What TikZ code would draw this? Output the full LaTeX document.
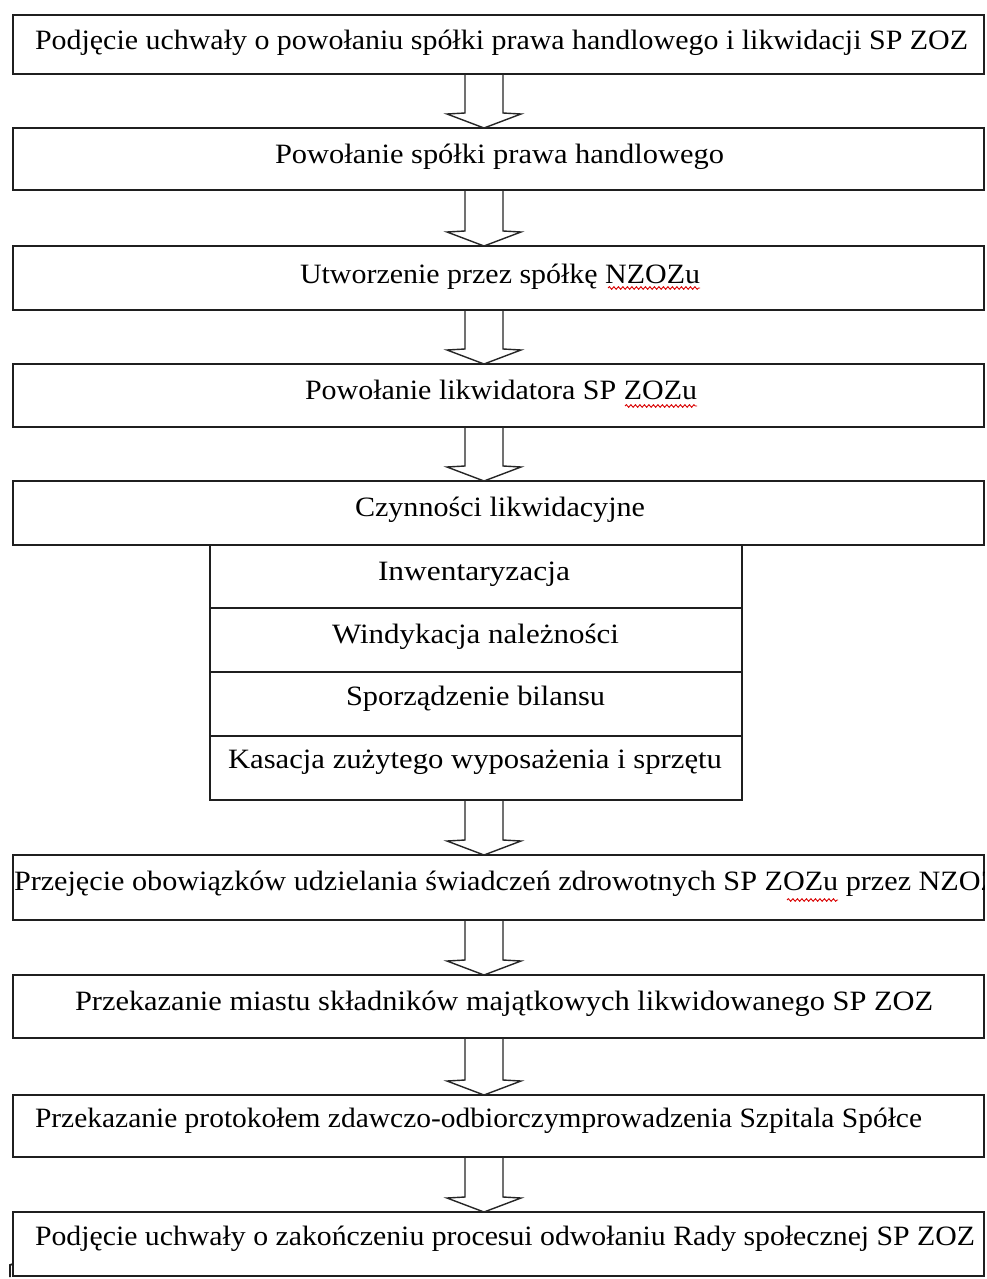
\documentclass[tikz,border=0pt]{standalone}
\usepackage{fontspec}
\usepackage{graphicx}
\setmainfont{Liberation Serif}
\usetikzlibrary{calc,decorations.pathmorphing}
\newcommand\fitw[2]{\resizebox{#1}{\height}{#2}}
\tikzset{
  box/.style={draw=black!88, line width=1.8pt, inner sep=0pt, outer sep=0pt, anchor=north west},
  txt/.style={inner sep=0pt, outer sep=0pt, anchor=base west, text=black, font=\fontsize{28}{30}\selectfont},
  barrow/.style={draw=black!85, line width=1.4pt, line join=miter},
  spell/.style={draw=red!85!black, line width=0.9pt, decorate, decoration={snake, amplitude=1.3pt, segment length=4.5pt}}
}
\newcommand\blk[2]{%
  \draw[barrow] ($(ax|-#1.south)+(-19,0)$) -- ($(ax|-#2.north)+(-19,-15)$) -- ($(ax|-#2.north)+(-37,-14)$) -- (ax|-#2.north) -- ($(ax|-#2.north)+(37,-14)$) -- ($(ax|-#2.north)+(19,-15)$) -- ($(ax|-#1.south)+(19,0)$);}
\begin{document}
\begin{tikzpicture}[x=1pt,y=-1pt]
\useasboundingbox (0,0) rectangle (986,1279);
\fill[white] (0,0) rectangle (986,1279);
\coordinate (ax) at (484,0);
% main boxes
\node[box, minimum width=971pt, minimum height=59pt] (b1) at (13,15) {};
\node[box, minimum width=971pt, minimum height=62pt] (b2) at (13,128) {};
\node[box, minimum width=971pt, minimum height=64pt] (b3) at (13,246) {};
\node[box, minimum width=971pt, minimum height=63pt] (b4) at (13,364) {};
\node[box, minimum width=971pt, minimum height=64pt] (b5) at (13,481) {};
\node[box, minimum width=532pt, minimum height=63pt] (s1) at (210,545) {};
\node[box, minimum width=532pt, minimum height=64pt] (s2) at (210,608) {};
\node[box, minimum width=532pt, minimum height=64pt] (s3) at (210,672) {};
\node[box, minimum width=532pt, minimum height=64pt] (s4) at (210,736) {};
\node[box, minimum width=971pt, minimum height=65pt] (b6) at (13,855) {};
\node[box, minimum width=971pt, minimum height=63pt] (b7) at (13,975) {};
\node[box, minimum width=971pt, minimum height=62pt] (b8) at (13,1095) {};
\node[box, minimum width=971pt, minimum height=64pt] (b9) at (13,1212) {};
\draw[draw=black!88, line width=1.8pt] (b9.west |- 0,1264) -- (10,1265) -- (10,1277);
% texts
\node[txt] (t1) at (35,50) {\fitw{933pt}{Podjęcie uchwały o powołaniu spółki prawa handlowego i likwidacji SP ZOZ}};
\node[txt] (t2) at (275,163) {\fitw{449pt}{Powołanie spółki prawa handlowego}};
\node[txt] (t3) at (300,283) {\fitw{400pt}{Utworzenie przez spółkę NZOZu}};
\node[txt] (t4) at (305,399) {\fitw{392pt}{Powołanie likwidatora SP ZOZu}};
\node[txt] (t5) at (355,516) {\fitw{290pt}{Czynności likwidacyjne}};
\node[txt] (u1) at (378,580) {\fitw{192pt}{Inwentaryzacja}};
\node[txt] (u2) at (332,643) {\fitw{287pt}{Windykacja należności}};
\node[txt] (u3) at (346,705) {\fitw{259pt}{Sporządzenie bilansu}};
\node[txt] (u4) at (228,768) {\fitw{494pt}{Kasacja zużytego wyposażenia i sprzętu}};
\begin{scope}
\clip (b6.south west) rectangle (b6.north east);
\node[txt] (t6) at (14,890) {\fitw{985pt}{Przejęcie obowiązków udzielania świadczeń zdrowotnych SP ZOZu przez NZOZ}};
\end{scope}
\node[txt] (t7) at (75,1010) {\fitw{858pt}{Przekazanie miastu składników majątkowych likwidowanego SP ZOZ}};
\node[txt] (t8) at (35,1127) {\fitw{887pt}{Przekazanie protokołem zdawczo-odbiorczymprowadzenia Szpitala Spółce}};
\node[txt] (t9) at (35,1245) {\fitw{940pt}{Podjęcie uchwały o zakończeniu procesui odwołaniu Rady społecznej SP ZOZ}};
% spelling underlines
\draw[spell] (608,288) -- (700,288);
\draw[spell] (625,406) -- (697,406);
\draw[spell] (787,900) -- (838,900);
% arrows
\blk{b1}{b2}
\blk{b2}{b3}
\blk{b3}{b4}
\blk{b4}{b5}
\blk{s4}{b6}
\blk{b6}{b7}
\blk{b7}{b8}
\blk{b8}{b9}
\end{tikzpicture}
\end{document}
